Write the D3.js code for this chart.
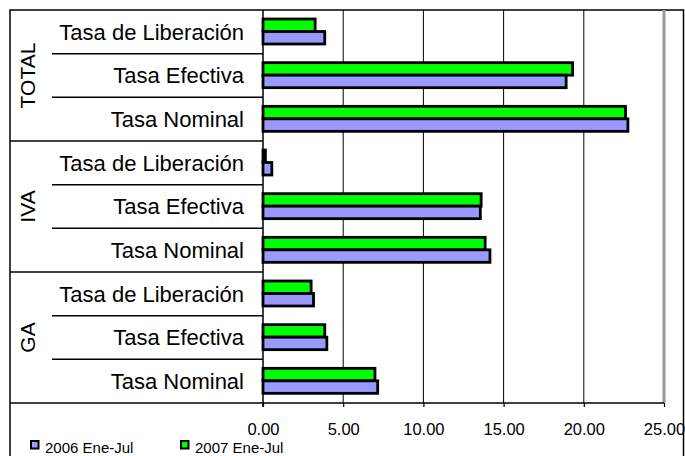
<!DOCTYPE html>
<html>
  <head>
    <meta charset="utf-8">
    <script src="https://d3js.org/d3.v7.min.js"></script>
    <style>
      body { margin: 0; background: #fff; }
      text { font-family: "Liberation Sans", Arial, sans-serif; fill: #000; }
    </style>
  </head>
  <body>
    <div id="chart"></div>
    <script>
      // Data
      const groups = ["TOTAL", "IVA", "GA"];
      const rates = ["Tasa de Liberación", "Tasa Efectiva", "Tasa Nominal"];
      const seriesNames = ["2006 Ene-Jul", "2007 Ene-Jul"];
      const seriesColors = ["#9999ff", "#00ff00"];
      // values per group, in the order of rates
      const values2006 = {
        TOTAL: [3.85, 18.9, 22.75],
        IVA: [0.55, 13.55, 14.15],
        GA: [3.15, 3.98, 7.15]
      };
      const values2007 = {
        TOTAL: [3.25, 19.3, 22.6],
        IVA: [0.15, 13.6, 13.85],
        GA: [3.0, 3.85, 6.98]
      };
      const xTicks = [0, 5, 10, 15, 20, 25];

      const W = 685, H = 456;
      const mLeft = 263, mRight = 664, mTop = 10, mBottom = 403;

      const svg = d3.select("#chart").append("svg")
        .attr("width", W).attr("height", H);

      const rows = [];
      groups.forEach(g => rates.forEach((r, i) => {
        rows.push({ key: g + "|" + r, group: g, rate: r, v: [values2006[g][i], values2007[g][i]] });
      }));

      const x = d3.scaleLinear().domain([0, 25]).range([mLeft, mRight]);
      const y = d3.scaleBand().domain(rows.map(d => d.key)).range([mTop, mBottom]);
      const inner = d3.scaleBand().domain(["2007", "2006"]).range([9, 34]);

      // outer frame
      svg.append("rect")
        .attr("x", 10).attr("y", 10).attr("width", 673.5).attr("height", 460)
        .attr("fill", "none").attr("stroke", "#000").attr("stroke-width", 1.5);

      // grid lines
      svg.selectAll(".grid").data(xTicks.filter(t => t > 0 && t < 25)).enter()
        .append("line")
        .attr("x1", d => x(d)).attr("x2", d => x(d))
        .attr("y1", mTop).attr("y2", mBottom)
        .attr("stroke", "#000").attr("stroke-width", 1);

      // grey right border of plot
      svg.append("line")
        .attr("x1", x(25)).attr("x2", x(25)).attr("y1", mTop).attr("y2", mBottom)
        .attr("stroke", "#999").attr("stroke-width", 3);

      // bars
      const rowG = svg.selectAll(".row").data(rows).enter().append("g")
        .attr("transform", d => `translate(0,${y(d.key)})`);
      rowG.append("rect")
        .attr("x", x(0)).attr("y", inner("2007"))
        .attr("width", d => x(d.v[1]) - x(0)).attr("height", inner.bandwidth())
        .attr("fill", seriesColors[1]).attr("stroke", "#000").attr("stroke-width", 2.8);
      rowG.append("rect")
        .attr("x", x(0)).attr("y", inner("2006"))
        .attr("width", d => x(d.v[0]) - x(0)).attr("height", inner.bandwidth())
        .attr("fill", seriesColors[0]).attr("stroke", "#000").attr("stroke-width", 2.8);

      // category labels
      rowG.append("text")
        .attr("x", 244).attr("y", y.bandwidth() / 2)
        .attr("dy", "0.36em").attr("text-anchor", "end")
        .style("font-size", "22px")
        .text(d => d.rate);

      // separators in the label area
      rows.forEach((d, i) => {
        if (i === 0) return;
        const isGroup = i % rates.length === 0;
        svg.append("line")
          .attr("x1", isGroup ? 10 : 52).attr("x2", mLeft)
          .attr("y1", y(d.key)).attr("y2", y(d.key))
          .attr("stroke", "#000").attr("stroke-width", 1.5);
      });
      svg.append("line")
        .attr("x1", 10).attr("x2", mRight).attr("y1", mBottom).attr("y2", mBottom)
        .attr("stroke", "#000").attr("stroke-width", 1.5);

      // group labels
      groups.forEach(g => {
        const y0 = y(g + "|" + rates[0]);
        const y1 = y(g + "|" + rates[rates.length - 1]) + y.bandwidth();
        svg.append("text")
          .attr("transform", `translate(27,${(y0 + y1) / 2}) rotate(-90)`)
          .attr("dy", "0.36em").attr("text-anchor", "middle")
          .style("font-size", "21px")
          .text(g);
      });

      // axes
      svg.append("line")
        .attr("x1", x(0)).attr("x2", x(0)).attr("y1", mTop).attr("y2", mBottom + 4)
        .attr("stroke", "#000").attr("stroke-width", 1.5);
      const xAxis = d3.axisBottom(x).tickValues(xTicks).tickFormat(d3.format(".2f"))
        .tickSize(4).tickPadding(16);
      const ax = svg.append("g").attr("transform", `translate(0,${mBottom})`).call(xAxis);
      ax.select(".domain").remove();
      ax.selectAll(".tick line").attr("stroke", "#000").attr("stroke-width", 1.2);
      ax.selectAll("text").style("font-size", "16.5px")
        .style("font-family", '"Liberation Sans", Arial, sans-serif').attr("fill", "#000");

      // legend
      const leg = svg.selectAll(".leg").data(seriesNames).enter().append("g")
        .attr("transform", (d, i) => `translate(${31 + i * 150},441)`);
      leg.append("rect").attr("width", 7.5).attr("height", 7.5)
        .attr("fill", (d, i) => seriesColors[i]).attr("stroke", "#000").attr("stroke-width", 2);
      leg.append("text").attr("x", 14).attr("y", 11.5)
        .style("font-size", "15px").text(d => d);
    </script>
  </body>
</html>
